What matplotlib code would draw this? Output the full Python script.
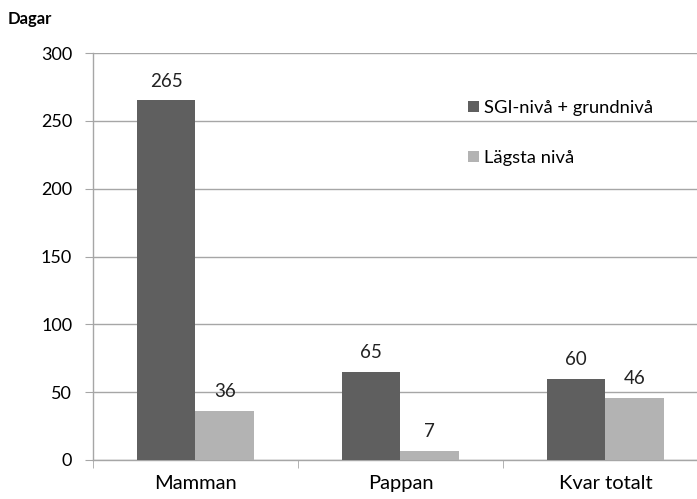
import numpy as np
import matplotlib
matplotlib.use("Agg")
import matplotlib.pyplot as plt

categories = ["Mamman", "Pappan", "Kvar totalt"]
series_names = ["SGI-nivå + grundnivå", "Lägsta nivå"]
sgi_values = [265, 65, 60]
lowest_values = [36, 7, 46]
y_ticks = [0, 50, 100, 150, 200, 250, 300]

DARK = "#5f5f5f"
LIGHT = "#b3b3b3"
GRID = "#a6a6a6"

plt.rcParams["font.family"] = ["Lato", "DejaVu Sans"]

W, H = 697, 499
fig = plt.figure(figsize=(W / 100, H / 100), dpi=100)
# axes extends slightly past the right edge, like the original
ax = fig.add_axes([93 / W, 39 / H, 615 / W, 407 / H])

x = np.arange(len(categories))
bw = 0.285
b1 = ax.bar(x - bw / 2, sgi_values, bw, color=DARK, label=series_names[0], zorder=3)
b2 = ax.bar(x + bw / 2, lowest_values, bw, color=LIGHT, label=series_names[1], zorder=3)

for bars, vals in ((b1, sgi_values), (b2, lowest_values)):
    for r, v in zip(bars, vals):
        ax.text(r.get_x() + r.get_width() / 2, v + 8, str(v),
                ha="center", va="bottom", fontsize=13.5, color="#222222")

ax.set_xlim(-0.5, len(categories) - 0.5)
ax.set_ylim(0, 300)
ax.set_yticks(y_ticks)
ax.yaxis.grid(True, color=GRID, linewidth=1.0, zorder=0)
ax.set_axisbelow(True)

ax.set_xticks(x)
ax.set_xticklabels(categories, fontsize=14.5)
ax.tick_params(axis="x", length=0, pad=11)
ax.tick_params(axis="y", length=6, color=GRID, labelsize=13, pad=9)
ax.set_xticks(np.arange(len(categories) + 1) - 0.5, minor=True)
ax.tick_params(axis="x", which="minor", length=6, color=GRID, direction="out")

for side in ("top", "right"):
    ax.spines[side].set_visible(False)
for side in ("left", "bottom"):
    ax.spines[side].set_color(GRID)
    ax.spines[side].set_linewidth(1.0)

fig.text(8 / W, 1 - 19 / H, "Dagar", fontsize=12, fontweight="bold", va="center")

ax.legend(loc="upper left", bbox_to_anchor=(0.595, 0.907), frameon=False,
          fontsize=13.2, handlelength=0.6, handleheight=0.6, handletextpad=0.25,
          labelspacing=1.85, borderpad=0)

fig.savefig("out.png", dpi=100, facecolor="white")
